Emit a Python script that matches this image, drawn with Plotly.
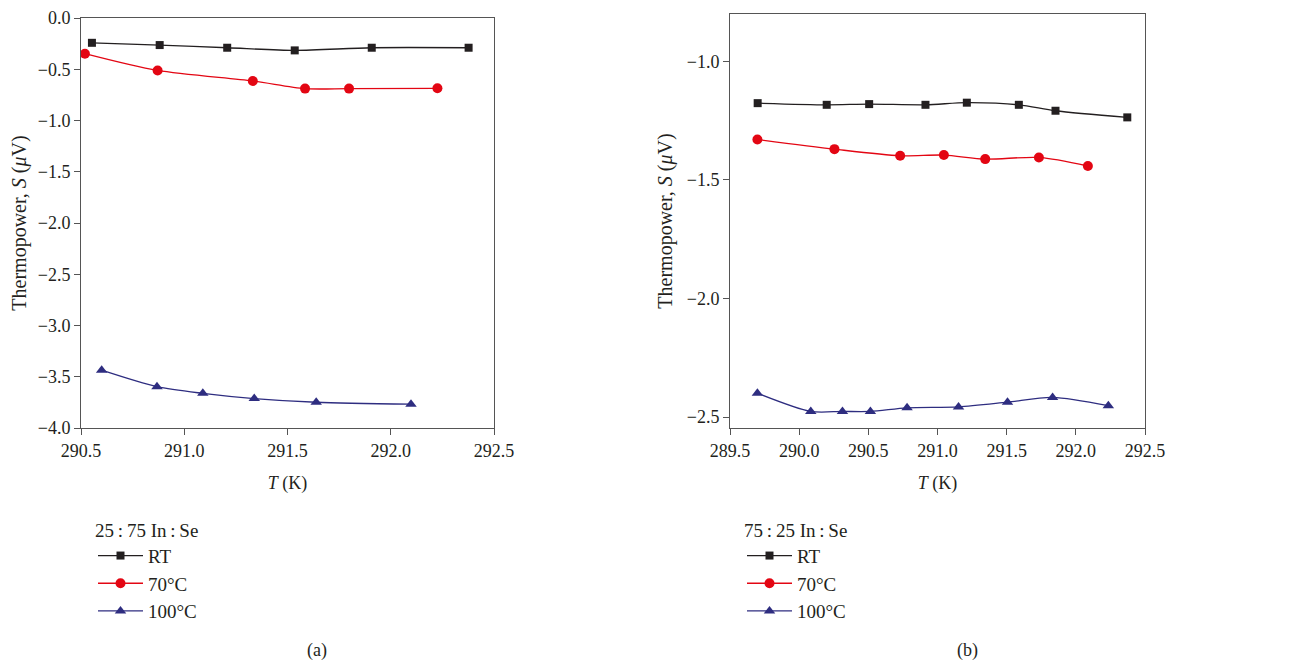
import plotly.graph_objects as go

# Panel (a): 25:75 In:Se
a_rt_x = [290.553, 290.881, 291.208, 291.535, 291.908, 292.377]
a_rt_y = [-0.242, -0.264, -0.290, -0.316, -0.290, -0.290]
a_70_x = [290.519, 290.871, 291.332, 291.585, 291.798, 292.226]
a_70_y = [-0.348, -0.512, -0.615, -0.689, -0.689, -0.686]
a_100_x = [290.600, 290.868, 291.090, 291.339, 291.639, 292.098]
a_100_y = [-3.436, -3.597, -3.662, -3.713, -3.749, -3.768]

# Panel (b): 75:25 In:Se
b_rt_x = [289.700, 290.199, 290.506, 290.913, 291.212, 291.588, 291.853, 292.372]
b_rt_y = [-1.176, -1.183, -1.180, -1.183, -1.174, -1.183, -1.208, -1.236]
b_70_x = [289.698, 290.255, 290.730, 291.046, 291.345, 291.733, 292.087]
b_70_y = [-1.329, -1.370, -1.398, -1.395, -1.412, -1.405, -1.441]
b_100_x = [289.698, 290.084, 290.313, 290.515, 290.780, 291.152, 291.506, 291.832, 292.235]
b_100_y = [-2.399, -2.476, -2.476, -2.476, -2.461, -2.457, -2.437, -2.417, -2.452]

series_names = ["RT", "70°C", "100°C"]
legend_titles = ["25\u2009:\u200975 In\u2009:\u2009Se", "75\u2009:\u200925 In\u2009:\u2009Se"]
colors = ["#231f20", "#e30613", "#2e2d80"]
symbols = ["square", "circle", "triangle-up"]
sizes = [8, 10, 10]

FONT = "Liberation Serif"
TXT = "#231f20"
W, H = 1289, 665
OFF = 8  # page body margin offset

def px_x(v):
    return (v - OFF) / W

def px_y(v):
    return 1 - (v - OFF) / H

fig = go.Figure()

panels = [
    ([(a_rt_x, a_rt_y), (a_70_x, a_70_y), (a_100_x, a_100_y)], "x", "y", "legend"),
    ([(b_rt_x, b_rt_y), (b_70_x, b_70_y), (b_100_x, b_100_y)], "x2", "y2", "legend2"),
]
for data, xa, ya, lg in panels:
    for i, (xs, ys) in enumerate(data):
        fig.add_trace(go.Scatter(
            x=xs, y=ys, mode="lines+markers", name=series_names[i],
            line=dict(color=colors[i], width=1.3, shape="spline", smoothing=0.8),
            marker=dict(symbol=symbols[i], size=sizes[i], color=colors[i]),
            xaxis=xa, yaxis=ya, legend=lg,
        ))

axis_common = dict(
    showgrid=False, zeroline=False, showline=True, mirror=True, automargin=False,
    linecolor="#555555", linewidth=1, ticks="outside", ticklen=6,
    tickcolor="#555555", tickfont=dict(family=FONT, size=18, color=TXT),
    tickformat=".1f", ticklabeloverflow="allow",
)
xtitle = dict(text="<i>T</i> (K)", font=dict(family=FONT, size=18, color=TXT), standoff=16)
ytitle = dict(text="Thermopower, <i>S</i> (<i>μ</i>V)", font=dict(family=FONT, size=20, color=TXT), standoff=8)

legend_common = dict(xanchor="left", yanchor="top", itemwidth=45,
                     font=dict(family=FONT, size=19, color=TXT), bgcolor="rgba(0,0,0,0)")

fig.update_layout(
    width=W, height=H,
    margin=dict(l=0, r=0, t=0, b=0, autoexpand=False),
    paper_bgcolor="white", plot_bgcolor="white",
    font=dict(family=FONT, color=TXT),
    xaxis=dict(domain=[px_x(81), px_x(494)], range=[290.5, 292.5], dtick=0.5,
               anchor="y", title=xtitle, **axis_common),
    yaxis=dict(domain=[px_y(428), px_y(18)], range=[-4.0, 0.0], dtick=0.5,
               anchor="x", title=ytitle, **axis_common),
    xaxis2=dict(domain=[px_x(730), px_x(1145)], range=[289.5, 292.5], dtick=0.5,
                anchor="y2", title=xtitle, **axis_common),
    yaxis2=dict(domain=[px_y(428), px_y(14)], range=[-2.546, -0.80], dtick=0.5,
                anchor="x2", title=ytitle, **axis_common),
    legend=dict(x=px_x(93), y=px_y(512),
                title=dict(text=legend_titles[0], font=dict(family=FONT, size=19, color=TXT)),
                **legend_common),
    legend2=dict(x=px_x(742), y=px_y(512),
                 title=dict(text=legend_titles[1], font=dict(family=FONT, size=19, color=TXT)),
                 **legend_common),
    showlegend=True,
    annotations=[
        dict(text="(a)", x=px_x(317), y=px_y(650), xref="paper", yref="paper",
             xanchor="center", yanchor="middle",
             showarrow=False, font=dict(family=FONT, size=18, color=TXT)),
        dict(text="(b)", x=px_x(967), y=px_y(650), xref="paper", yref="paper",
             xanchor="center", yanchor="middle",
             showarrow=False, font=dict(family=FONT, size=18, color=TXT)),
    ],
)

fig.write_html("out.html")
